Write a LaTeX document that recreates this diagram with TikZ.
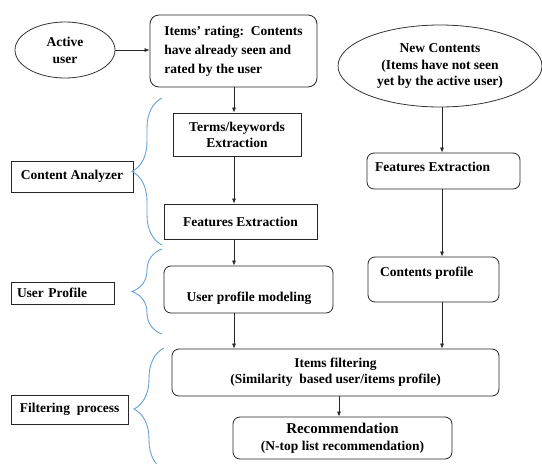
\documentclass[tikz,border=0pt]{standalone}
\usepackage{fontspec}
\setmainfont{Liberation Serif}
\usetikzlibrary{arrows.meta,decorations.pathreplacing,shapes.geometric}
\begin{document}
\begin{tikzpicture}[x=1pt,y=-1pt,
  every node/.style={font=\bfseries\fontsize{13.5}{19}\selectfont, text=black},
  box/.style={draw=black!85, line width=0.8pt, inner sep=0pt, align=center},
  rbox/.style={box, rounded corners=7pt},
  oval/.style={draw=black!80, line width=0.8pt, ellipse, inner sep=0pt, align=center},
  txt/.style={inner sep=0pt, align=center},
  arr/.style={draw=black!85, line width=0.7pt, -{Latex[length=5pt,width=4pt]}},
  bracestyle/.style={draw={rgb,255:red,100;green,160;blue,215}, line width=0.9pt, decorate,
    decoration={brace, amplitude=30pt}}
]
\useasboundingbox (0,0) rectangle (542,464);

% column coordinates
\coordinate (c1) at (234,0);
\coordinate (c3) at (442,0);
\coordinate (c5) at (339,0);

% top row
\node[oval, minimum width=100pt, minimum height=56pt, font=\bfseries\fontsize{13.5}{17}\selectfont] (au) at (65,50) {Active\\user};
\node[rbox, minimum width=167pt, minimum height=72pt, align=left, rounded corners=9pt] (ir) at (233.5,51)
  {Items' rating:~~Contents\\have already seen and\\rated by the user};
\node[oval, minimum width=204pt, minimum height=82pt, font=\bfseries\fontsize{13.5}{16.5}\selectfont] (nc) at (440,66)
  {New Contents\\(Items~have not seen\\yet by the active user)};

% left column
\node[box, minimum width=128pt, minimum height=43pt, font=\bfseries\fontsize{13.5}{16}\selectfont] (tk) at (237,134.5) {Terms/keywords\\Extraction};
\node[box, minimum width=153pt, minimum height=35pt] (fe1) at (240.5,221.5) {Features Extraction};
\node[rbox, minimum width=169pt, minimum height=47pt] (upm) at (248.5,289.5) {};
\node[txt] (upmt) at (249,298) {User profile modeling};

% right column
\node[rbox, minimum width=153pt, minimum height=36pt] (fe2) at (443.5,171) {};
\node[txt, anchor=west] (fe2t) at (375,167) {Features Extraction};
\node[rbox, minimum width=131pt, minimum height=45pt] (cp) at (433.5,279.5) {};
\node[txt, anchor=west] (cpt) at (380,273) {Contents profile};

% bottom
\node[rbox, minimum width=327pt, minimum height=47pt, font=\bfseries\fontsize{13.5}{16}\selectfont] (if) at (335.5,372.5)
  {Items filtering\\(Similarity~~based user/items profile)};
\node[rbox, minimum width=219pt, minimum height=42pt, font=\bfseries\fontsize{13.5}{17}\selectfont] (rec) at (342.5,438)
  {{\fontsize{15}{17}\selectfont Recommendation}\\(N-top list recommendation)};

% stage labels
\node[box, minimum width=122pt, minimum height=31pt] (ca) at (72,176.5) {Content Analyzer};
\node[box, minimum width=103pt, minimum height=22pt, text width=91pt, inner xsep=6pt, align=left] (up) at (62.5,293) {User Profile};
\node[box, minimum width=117pt, minimum height=29pt] (fp) at (69.5,409.5) {Filtering~~process};

% braces
\coordinate (b1s) at (162,245); \coordinate (b1e) at (162,98);
\coordinate (b2s) at (162,334); \coordinate (b2e) at (162,249);
\coordinate (b3s) at (164,470); \coordinate (b3e) at (164,348);
\draw[bracestyle] (b1s) -- (b1e);
\draw[bracestyle] (b2s) -- (b2e);
\draw[bracestyle] (b3s) -- (b3e);

% connectors
\draw[arr] (au.east) -- (au.east -| ir.west);
\draw[arr] (ir.south -| c1) -- (tk.north -| c1);
\draw[arr] (tk.south -| c1) -- (fe1.north -| c1);
\draw[arr] (fe1.south -| c1) -- (upm.north -| c1);
\draw[arr] (upm.south -| c1) -- (if.north -| c1);
\draw[arr] (nc.south -| c3) -- (fe2.north -| c3);
\draw[arr] (fe2.south -| c3) -- (cp.north -| c3);
\draw[arr] (cp.south -| c3) -- (if.north -| c3);
\draw[arr] (if.south -| c5) -- (rec.north -| c5);
\end{tikzpicture}
\end{document}
